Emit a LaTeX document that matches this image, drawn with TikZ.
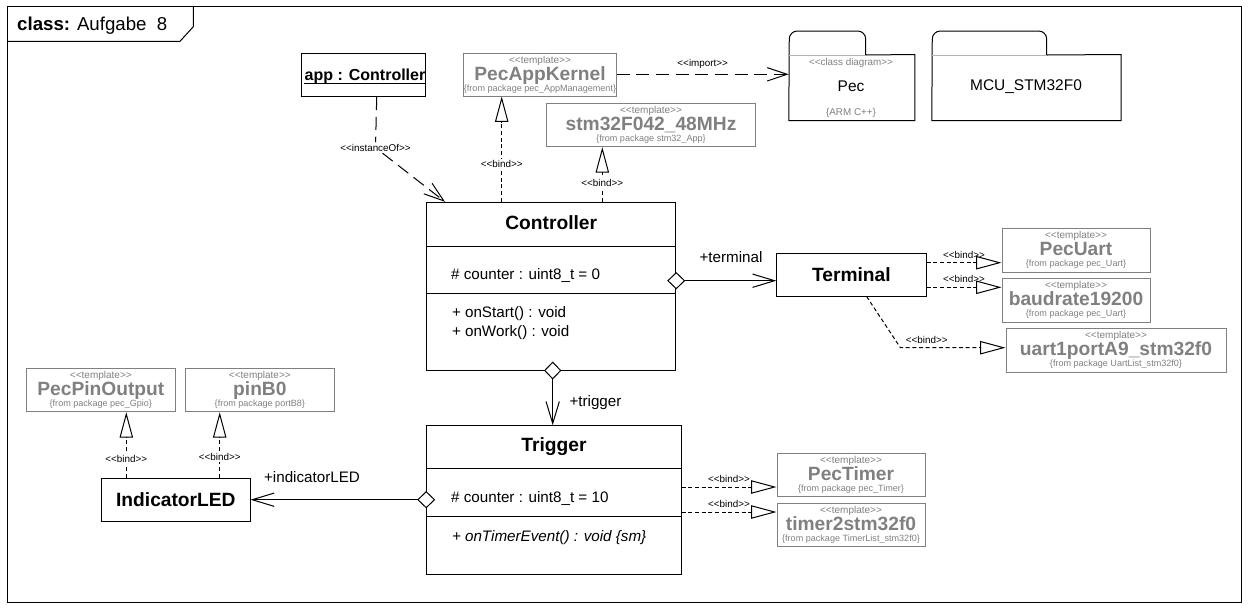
\documentclass[tikz,border=0pt]{standalone}
\usepackage{fontspec}
\setmainfont{Liberation Sans}[Ligatures=TeXOff]
\usepackage{tikz}
\usetikzlibrary{positioning,arrows.meta,fit}
\definecolor{tplgray}{RGB}{128,128,128}
\newcommand{\umlname}{\fontsize{14.4}{16}\selectfont\bfseries}
\newcommand{\umltxt}{\fontsize{11.4}{13}\selectfont}
\newcommand{\umlsmall}{\fontsize{7.4}{8.5}\selectfont}
\newcommand{\umltiny}{\fontsize{6.8}{8}\selectfont}
\newcommand{\tplfont}{\fontsize{7.5}{8.25}\selectfont\lineskiplimit=-20pt\relax}
\newcommand{\sty}[1]{<\kern0pt<#1>\kern0pt>}

\begin{document}
\begin{tikzpicture}[x=0.75pt,y=-0.75pt,line width=0.75pt,every node/.style={inner sep=0pt},
  sz/.style 2 args={minimum width=#1*0.75pt,minimum height=#2*0.75pt}]
\tikzstyle{cls}=[draw,inner sep=0pt,font=\umlname]
\tikzstyle{tpl}=[draw=tplgray,text=tplgray,inner sep=0pt,align=center,font=\tplfont]
\tikzstyle{lbl}=[font=\umlsmall,inner sep=1pt]
\tikzstyle{role}=[font=\umltxt]
\tikzstyle{txt}=[anchor=base west,font=\umltxt]
\tikzstyle{bind}=[dash pattern=on 3pt off 2pt,-{Triangle[open,length=19pt,width=10pt]}]
\tikzstyle{dep}=[dash pattern=on 9.75pt off 5pt,-{Straight Barb[length=15pt,width=10pt]}]
\tikzstyle{comp}=[{Diamond[fill=white,length=13.5pt,width=13pt]}-{Straight Barb[length=16.5pt,width=10pt]},shorten <=-6.75pt]
\useasboundingbox (0,0) rectangle (1249,608);

% frame
\draw (7,6) rectangle (1241,602);
\draw (7,41.3) -- (180,41.3) -- (193.3,26.7) -- (193.3,6);
\node[anchor=base west,font=\fontsize{14}{16}\selectfont] (title) at (16.7,30.5) {\textbf{class:} Aufgabe\ \ 8};

% classes
\node[cls,sz={124.5}{43.4}] (app) at (363.25,75) {};
\node[anchor=base,font=\fontsize{12}{14}\selectfont\bfseries] (appname) at (365,80.5) {app : Controller};
\draw ([yshift=-2.6pt]appname.base west) -- ([yshift=-2.6pt]appname.base east);

\node[draw,fit={(426.7,202.3)(675.7,370)}] (ctrl) {};
\draw (ctrl.west |- 0,246.7) -- (ctrl.east |- 0,246.7);
\draw (ctrl.west |- 0,293.3) -- (ctrl.east |- 0,293.3);
\node[anchor=base,font=\umlname] (ctrlname) at (551.2,229) {Controller};
\node[txt] (ctrlattr) at (450.7,279.7) {\# counter : uint8\_t = 0};
\node[txt] (ctrlstart) at (451.5,317.4) {+ onStart() : void};
\node[txt] (ctrlwork) at (451.5,336.4) {+ onWork() : void};

\node[draw,fit={(426.7,425.7)(681,574)}] (trig) {};
\draw (trig.west |- 0,468.7) -- (trig.east |- 0,468.7);
\draw (trig.west |- 0,516) -- (trig.east |- 0,516);
\node[anchor=base,font=\umlname] (trigname) at (554,451) {Trigger};
\node[txt] (trigattr) at (450.7,502.4) {\# counter : uint8\_t = 10};
\node[txt] (trigevent) at (451.5,541.4) {\itshape + onTimerEvent() : void \{sm\}};

\node[cls,sz={149.2}{42.7}] (term) at (851.4,274.65) {Terminal};
\node[cls,sz={148.3}{43.7}] (led) at (175.85,499.85) {IndicatorLED};

% templates
\node[tpl,sz={148.6}{42.7}] (appk) at (540,74.65) {\sty{template}\\[4.5pt]{\umlname PecAppKernel}\\{\umltiny\{from package pec\_AppManagement\}}};
\node[tpl,sz={208.6}{43.4}] (stm) at (651,125) {\sty{template}\\[4.5pt]{\umlname stm32F042\_48MHz}\\{\umltiny\{from package stm32\_App\}}};
\node[tpl,sz={148}{44}] (pecuart) at (1076,250) {\sty{template}\\[4.5pt]{\umlname PecUart}\\{\umltiny\{from package pec\_Uart\}}};
\node[tpl,sz={148}{44}] (baud) at (1076,300) {\sty{template}\\[4.5pt]{\umlname baudrate19200}\\{\umltiny\{from package pec\_Uart\}}};
\node[tpl,sz={220}{44}] (uartport) at (1116,350) {\sty{template}\\[4.5pt]{\umlname uart1portA9\_stm32f0}\\{\umltiny\{from package UartList\_stm32f0\}}};
\node[tpl,sz={148}{43}] (pectimer) at (851,474.5) {\sty{template}\\[4.5pt]{\umlname PecTimer}\\{\umltiny\{from package pec\_Timer\}}};
\node[tpl,sz={148}{43}] (timer) at (851,524.5) {\sty{template}\\[4.5pt]{\umlname timer2stm32f0}\\{\umltiny\{from package TimerList\_stm32f0\}}};
\node[tpl,sz={148.3}{43.7}] (pinout) at (100.85,389.85) {\sty{template}\\[4.5pt]{\umlname PecPinOutput}\\{\umltiny\{from package pec\_Gpio\}}};
\node[tpl,sz={148.3}{43.7}] (pinb) at (259.85,389.85) {\sty{template}\\[4.5pt]{\umlname pinB0}\\{\umltiny\{from package portB8\}}};

% packages
\node[fit={(789.3,55)(914.3,120)}] (pec) {};
\draw (pec.south west) [rounded corners=6pt] -- (789.3,31) -- (865.7,31) [sharp corners] -- (865.7,55) -- (pec.north east) -- (pec.south east) -- cycle;
\draw[tplgray!60] (789.3,55) -- (865.7,55);
\node[text=tplgray,font=\umlsmall] (pecst) at (851,63.3) {\sty{class diagram}};
\node[font=\fontsize{11.6}{13}\selectfont] (pecname) at (851,86.7) {Pec};
\node[text=tplgray,font=\umlsmall] (pecnote) at (851,113.3) {\{ARM C++\}};

\node[fit={(932.3,55)(1120.7,120)}] (mcu) {};
\draw (mcu.south west) [rounded corners=6pt] -- (932.3,31) -- (1046.7,31) [sharp corners] -- (1046.7,55) -- (mcu.north east) -- (mcu.south east) -- cycle;
\draw[tplgray!60] (932.3,55) -- (1046.7,55);
\node[font=\fontsize{11.6}{13}\selectfont] (mcuname) at (1026,86.7) {MCU\_STM32F0};

% dependencies
\node[lbl,fill=white] (inst) at (375.5,147.7) {\sty{instanceOf}};
\draw[dep,-] (376.7,0 |- app.south) -- (inst);
\draw[dep] (inst) -- (445,0 |- ctrl.north);
\draw[dep] (appk.east |- 0,74.3) -- node[lbl,above=3pt] {\sty{import}} (pec.west |- 0,74.3);

% bindings
\draw[bind] (501.7,0 |- ctrl.north) -- node[lbl,fill=white,pos=0.36] {\sty{bind}} (501.7,0 |- appk.south);
\draw[bind] (602.3,0 |- ctrl.north) -- node[lbl,fill=white,pos=0.34] {\sty{bind}} (602.3,0 |- stm.south);
\draw[bind] (term.east |- 0,262.7) -- node[lbl,above=2pt,pos=0.5] {\sty{bind}} (pecuart.west |- 0,262.7);
\draw[bind] (term.east |- 0,287.3) -- node[lbl,above=2pt,pos=0.5] {\sty{bind}} (baud.west |- 0,287.3);
\draw[bind] (866.6,0 |- term.south) -- (900.4,347.7) -- node[lbl,above=2pt,pos=0.25] {\sty{bind}} (uartport.west |- 0,347.7);
\draw[bind] (trig.east |- 0,487) -- node[lbl,above=2pt,pos=0.5] {\sty{bind}} (pectimer.west |- 0,487);
\draw[bind] (trig.east |- 0,512) -- node[lbl,above=2pt,pos=0.5] {\sty{bind}} (timer.west |- 0,512);
\draw[bind] (126.3,0 |- led.north) -- node[lbl,fill=white,pos=0.29] {\sty{bind}} (126.3,0 |- pinout.south);
\draw[bind] (219.7,0 |- led.north) -- node[lbl,fill=white,pos=0.31] {\sty{bind}} (219.7,0 |- pinb.south);

% associations
\draw[comp] (ctrl.east |- 0,280.7) -- (term.west |- 0,280.7);
\node[role] (termrole) at (731,257.3) {+terminal};
\draw[comp] (552.7,0 |- ctrl.south) -- (552.7,0 |- trig.north);
\node[role,anchor=west] (trigrole) at (569,403) {+trigger};
\draw[comp] (trig.west |- 0,499.7) -- (led.east |- 0,499.7);
\node[role] (ledrole) at (312,477) {+indicatorLED};
\end{tikzpicture}
\end{document}
